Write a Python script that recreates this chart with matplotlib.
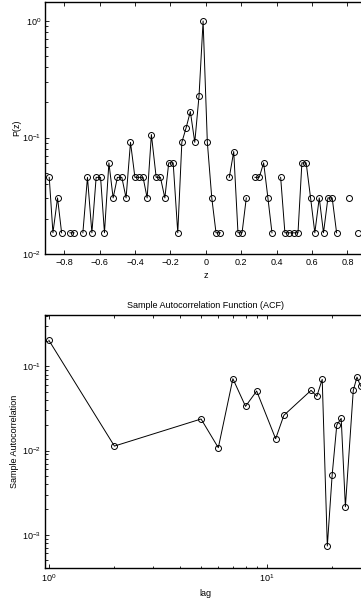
import numpy as np
import matplotlib
matplotlib.use("Agg")
import matplotlib.pyplot as plt
from matplotlib.ticker import LogLocator, NullFormatter

plt.rcParams['font.family'] = ['Liberation Sans', 'DejaVu Sans']
plt.rcParams['mathtext.fontset'] = 'custom'
plt.rcParams['mathtext.rm'] = 'Liberation Sans'
plt.rcParams['mathtext.it'] = 'Liberation Sans'

# ---- top panel data: distribution P(z) ----
z_vals = [-0.884, -0.863, -0.837, -0.814, -0.790, -0.767, -0.744, -0.719, -0.694, -0.668,
          -0.643, -0.619, -0.594, -0.572, -0.547, -0.523, -0.499, -0.474, -0.450, -0.425,
          -0.400, -0.378, -0.354, -0.331, -0.307, -0.280, -0.256, -0.231, -0.209, -0.184,
          -0.158, -0.135, -0.111, -0.087, -0.062, -0.038, -0.015, 0.009, 0.034, 0.058,
          0.082, 0.107, 0.133, 0.158, 0.182, 0.205, 0.229, 0.253, 0.278, 0.302,
          0.327, 0.351, 0.374, 0.398, 0.423, 0.447, 0.472, 0.496, 0.521, 0.543,
          0.567, 0.592, 0.616, 0.641, 0.665, 0.690, 0.714, 0.739, 0.763, 0.787,
          0.810, 0.835, 0.861]
p_vals = [0.0455, 0.0152, 0.0303, 0.0152, 0.0, 0.0152, 0.0152, 0.0, 0.0152, 0.0455,
          0.0152, 0.0455, 0.0455, 0.0152, 0.0606, 0.0303, 0.0455, 0.0455, 0.0303, 0.0909,
          0.0455, 0.0455, 0.0455, 0.0303, 0.106, 0.0455, 0.0455, 0.0303, 0.0606, 0.0606,
          0.0152, 0.0909, 0.121, 0.167, 0.0909, 0.227, 1.0, 0.0909, 0.0303, 0.0152,
          0.0152, 0.0, 0.0455, 0.0758, 0.0152, 0.0152, 0.0303, 0.0, 0.0455, 0.0455,
          0.0606, 0.0303, 0.0152, 0.0, 0.0455, 0.0152, 0.0152, 0.0152, 0.0152, 0.0606,
          0.0606, 0.0303, 0.0152, 0.0303, 0.0152, 0.0303, 0.0303, 0.0152, 0.0, 0.0,
          0.0303, 0.0, 0.0152]
z_ticks = [-0.8, -0.6, -0.4, -0.2, 0.0, 0.2, 0.4, 0.6, 0.8]
z_tick_labels = ['\u22120.8', '\u22120.6', '\u22120.4', '\u22120.2', '0', '0.2', '0.4', '0.6', '0.8']

# ---- bottom panel data: sample ACF ----
lags = [1, 2, 5, 6, 7, 8, 9, 11, 12, 16, 17, 18, 19, 20, 21, 22, 23, 25, 26, 27]
acf_vals = [0.204, 0.0113, 0.0237, 0.0108, 0.0713, 0.0335, 0.0509, 0.0138, 0.0262, 0.0519,
            0.0441, 0.0701, 0.000734, 0.00516, 0.0201, 0.0241, 0.00215, 0.0519, 0.0746, 0.0583]

W, H = 361, 601
fig = plt.figure(figsize=(W / 100, H / 100), dpi=100)

def px_axes(left, top, right, bottom):
    return fig.add_axes([left / W, 1 - bottom / H, (right - left) / W, (bottom - top) / H])

fs = 6.5
line_kw = dict(color='black', lw=0.7, marker='o', ms=4.3, mfc='none', mec='black', mew=0.7)

def style(ax):
    for s in ax.spines.values():
        s.set_linewidth(1.0)
        s.set_color('black')
    ax.spines['right'].set_visible(False)
    ax.tick_params(which='both', direction='in', top=True, right=False, labelsize=fs,
                   width=0.6, colors='black', pad=3)
    ax.tick_params(which='major', length=3)
    ax.tick_params(which='minor', length=1.8)

# top
ax1 = px_axes(45.5, 2, 366, 254)
p_arr = np.array(p_vals, dtype=float)
p_plot = np.where(p_arr > 0, p_arr, np.nan)
ax1.plot(z_vals, p_plot, **line_kw)
ax1.set_yscale('log')
ax1.set_xlim(-0.905, 0.905)
ax1.set_ylim(0.01, 1.456)
ax1.set_xticks(z_ticks)
ax1.set_xticklabels(z_tick_labels)
ax1.yaxis.set_major_locator(LogLocator(base=10, numticks=10))
ax1.yaxis.set_minor_locator(LogLocator(base=10, subs=np.arange(2, 10), numticks=10))
ax1.yaxis.set_minor_formatter(NullFormatter())
ax1.set_xlabel('z', fontsize=fs, labelpad=3)
ax1.set_ylabel('P(z)', fontsize=fs, labelpad=1)
style(ax1)

# bottom
ax2 = px_axes(45.5, 315.3, 366, 567.7)
ax2.plot(lags, acf_vals, **line_kw)
ax2.set_xscale('log')
ax2.set_yscale('log')
ax2.set_xlim(0.965, 28.6)
ax2.set_ylim(4.06e-4, 0.404)
ax2.xaxis.set_major_locator(LogLocator(base=10, numticks=10))
ax2.xaxis.set_minor_locator(LogLocator(base=10, subs=np.arange(2, 10), numticks=10))
ax2.xaxis.set_minor_formatter(NullFormatter())
ax2.yaxis.set_major_locator(LogLocator(base=10, numticks=10))
ax2.yaxis.set_minor_locator(LogLocator(base=10, subs=np.arange(2, 10), numticks=10))
ax2.yaxis.set_minor_formatter(NullFormatter())
ax2.set_xlabel('lag', fontsize=fs, labelpad=4)
ax2.set_ylabel('Sample Autocorrelation', fontsize=fs, labelpad=2)
ax2.set_title('Sample Autocorrelation Function (ACF)', fontsize=fs, pad=5)
style(ax2)

fig.savefig('out.png', dpi=100)
